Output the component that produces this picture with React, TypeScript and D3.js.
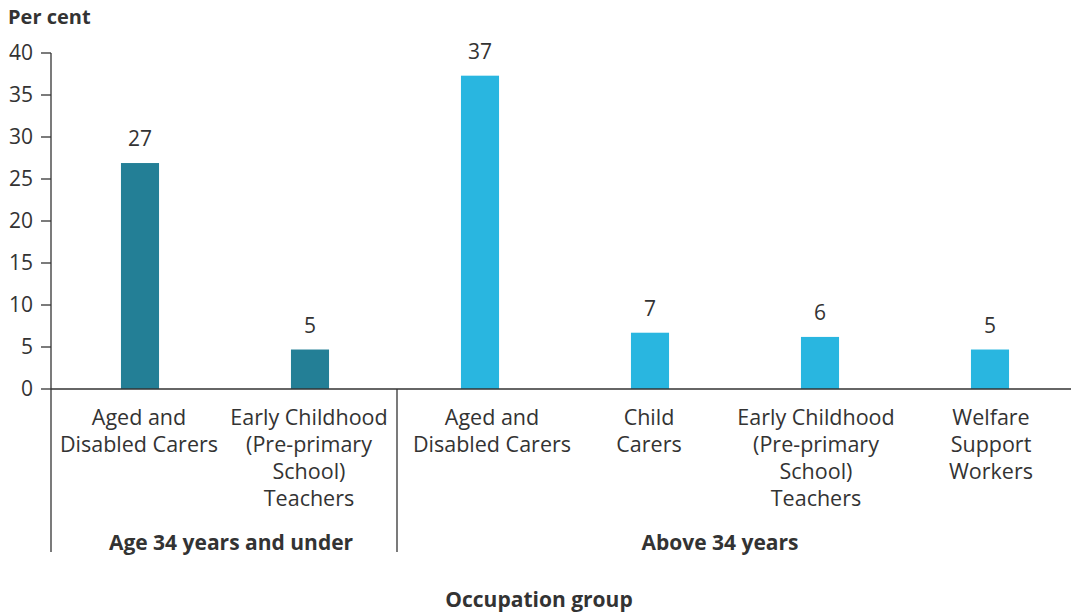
import React from "react";
import * as d3 from "d3";

const categories = [
  ["Aged and", "Disabled Carers"],
  ["Early Childhood", "(Pre-primary", "School)", "Teachers"],
  ["Aged and", "Disabled Carers"],
  ["Child", "Carers"],
  ["Early Childhood", "(Pre-primary", "School)", "Teachers"],
  ["Welfare", "Support", "Workers"],
];
const values = [26.9, 4.7, 37.3, 6.7, 6.2, 4.7];
const labels = ["27", "5", "37", "7", "6", "5"];
const groupIndex = [0, 0, 1, 1, 1, 1];
const groups = ["Age 34 years and under", "Above 34 years"];
const groupColors = ["#237F96", "#29B6E0"];
const yTicks = [0, 5, 10, 15, 20, 25, 30, 35, 40];

const W = 1071;
const H = 614;
const FONT = "'Open Sans', sans-serif";
const TEXT = "#333333";
const FS = 21;
const CAT_FS = 21.5;
// layout: small horizontal nudges of the category label blocks
const LABEL_NUDGE = [-1, -1, 12, -1, -4, 1];

export default function App() {
  const x = d3
    .scaleBand<number>()
    .domain(d3.range(categories.length))
    .range([55, 1075])
    .paddingInner(0.776)
    .paddingOuter(0.388);
  const y = d3.scaleLinear().domain([0, 40]).range([389, 53]);
  const axisX = 51;
  const bottom = 552;
  const dividerX = 397;
  const groupLabelX = [231, 720];

  return (
    <svg
      width={W}
      height={H}
      style={{ position: "absolute", left: 0, top: 0, display: "block" }}
      fontFamily={FONT}
    >
      <rect width={W} height={H} fill="#fff" />
      <text x={8} y={24} fontSize={20} fontWeight={700} fill={TEXT}>
        Per cent
      </text>
      {yTicks.map((t) => (
        <g key={t}>
          <line x1={41} x2={axisX} y1={y(t)} y2={y(t)} stroke={TEXT} strokeWidth={1.3} />
          <text x={33} y={y(t)} dy="0.35em" textAnchor="end" fontSize={FS} fill={TEXT}>
            {t}
          </text>
        </g>
      ))}
      {values.map((v, i) => {
        const cx = x(i)! + x.bandwidth() / 2;
        return (
          <g key={i}>
            <rect
              x={x(i)}
              y={y(v)}
              width={x.bandwidth()}
              height={y(0) - y(v)}
              fill={groupColors[groupIndex[i]]}
            />
            <text x={cx} y={y(v) - 17} textAnchor="middle" fontSize={FS} fill={TEXT}>
              {labels[i]}
            </text>
            {categories[i].map((line, j) => (
              <text
                key={j}
                x={cx + LABEL_NUDGE[i]}
                y={425 + j * 27}
                textAnchor="middle"
                fontSize={CAT_FS}
                fill={TEXT}
              >
                {line}
              </text>
            ))}
          </g>
        );
      })}
      <line x1={axisX} x2={axisX} y1={y(40)} y2={bottom} stroke={TEXT} strokeWidth={1.3} />
      <line x1={axisX} x2={1071} y1={y(0)} y2={y(0)} stroke={TEXT} strokeWidth={1.3} />
      <line x1={dividerX} x2={dividerX} y1={y(0)} y2={bottom} stroke={TEXT} strokeWidth={1.3} />
      {groups.map((g, i) => (
        <text
          key={g}
          x={groupLabelX[i]}
          y={550}
          textAnchor="middle"
          fontSize={FS}
          fontWeight={700}
          fill={TEXT}
        >
          {g}
        </text>
      ))}
      <text x={539} y={607} textAnchor="middle" fontSize={FS} fontWeight={700} fill={TEXT}>
        Occupation group
      </text>
    </svg>
  );
}
